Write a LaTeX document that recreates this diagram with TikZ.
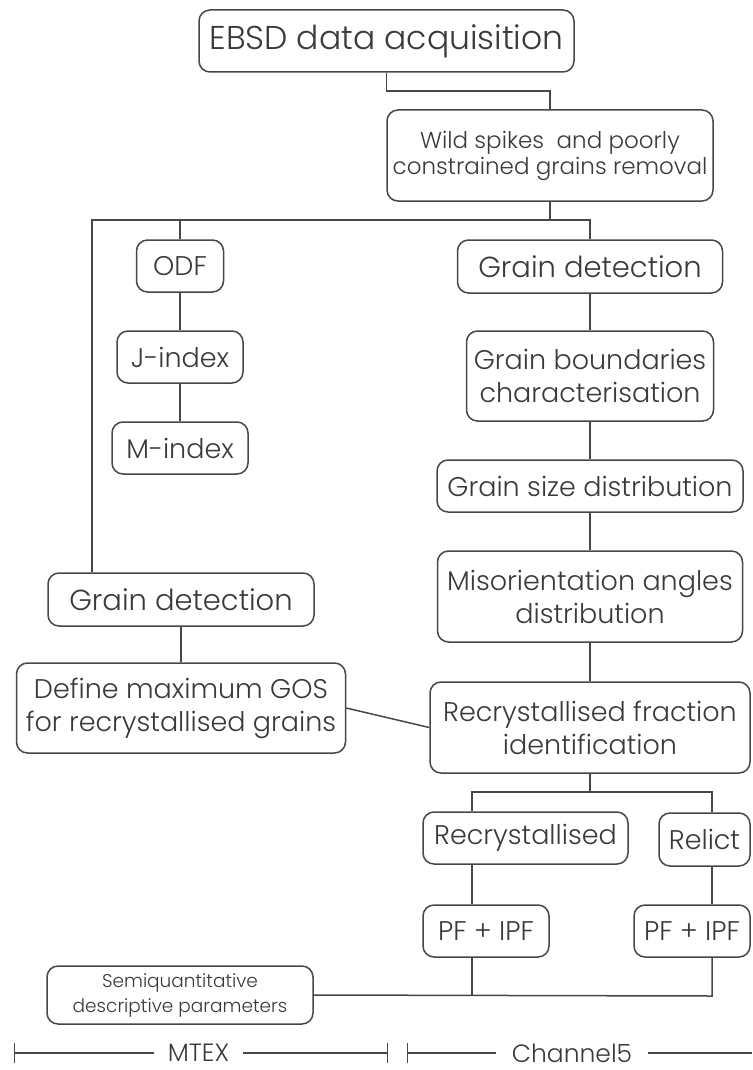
\documentclass[tikz,border=0pt]{standalone}
\usepackage{fontspec}
\setmainfont{Poppins}[UprightFont=* Light]
\usetikzlibrary{arrows.meta}
\definecolor{ink}{HTML}{3A3A3A}
\definecolor{wire}{HTML}{474747}
\begin{document}
\begin{tikzpicture}[x=1pt,y=-1pt,
  box/.style={draw=wire, line width=1.5pt, rounded corners=11pt, text=ink,
    align=center, inner sep=0pt, font=\fontsize{27}{33}\selectfont},
  sz/.style 2 args={minimum width=#1pt, minimum height=#2pt},
  link/.style={draw=wire, line width=1.5pt},
  ruler/.style={draw=wire, line width=1.2pt},
  rulerlabel/.style={text=ink, inner sep=1pt, font=\fontsize{25}{25}\selectfont}]

\fill[white] (0,0) rectangle (752,1070);
\useasboundingbox (0,0) rectangle (752,1070);

% process boxes
\node[box, sz={375}{62}, font=\fontsize{33}{38}\selectfont] (ebsd) at (386.5,41) {EBSD data acquisition};
\node[box, sz={326}{91}, font=\fontsize{23}{26}\selectfont] (wild) at (550,155.5) {Wild spikes~ and poorly\\constrained grains removal};

% MTEX texture branch
\node[box, sz={87}{52}] (odf) at (180,266) {ODF};
\node[box, sz={126}{52}] (jidx) at (180,357) {J-index};
\node[box, sz={136}{52}] (midx) at (180,448) {M-index};

% Channel5 grain branch
\node[box, sz={265}{53}, font=\fontsize{29}{33}\selectfont] (gd1) at (590,266.5) {Grain detection};
\node[box, sz={247}{90}] (gb) at (590,376) {Grain boundaries\\characterisation};
\node[box, sz={306}{52}] (gs) at (590,486) {Grain size distribution};
\node[box, sz={305}{91}] (mis) at (590,596.5) {Misorientation angles\\distribution};
\node[box, sz={320}{91}] (rf) at (590,727.5) {Recrystallised fraction\\identification};

% MTEX grain branch
\node[box, sz={266}{53}, font=\fontsize{29}{33}\selectfont] (gd2) at (181,599.5) {Grain detection};
\node[box, sz={329}{90}] (gos) at (181,708) {Define maximum GOS\\for recrystallised grains};

% fractions
\node[box, sz={205}{52}] (rec) at (525.5,838) {Recrystallised};
\node[box, sz={91}{53}] (rel) at (704.5,839.5) {Relict};
\node[box, sz={126}{52}] (pf1) at (486,931) {PF + IPF};
\node[box, sz={116}{52}] (pf2) at (692,931) {PF + IPF};
\node[box, sz={266}{58}, font=\fontsize{18.5}{25}\selectfont] (semi) at (180,995) {Semiquantitative\\descriptive parameters};

% connectors
\draw[link] (ebsd.south) |- (wild.north |- 0,91) -- (wild.north);

\coordinate (busL) at (92,220);
\coordinate (busR) at (gd1.north |- busL);
\draw[link] (wild.south) -- (wild.south |- busL);
\draw[link] (gd2.north -| busL) -- (busL) -- (busR) -- (gd1.north);
\draw[link] (odf.north) -- (odf.north |- busL);
\draw[link] (odf.south) -- (jidx.north);
\draw[link] (jidx.south) -- (midx.north);

\draw[link] (gd1.south) -- (gb.north);
\draw[link] (gb.south) -- (gs.north);
\draw[link] (gs.south) -- (mis.north);
\draw[link] (mis.south) -- (rf.north);

\draw[link] (gd2.south) -- (gos.north);
\draw[link] (gos.east) -- (rf.west);

\coordinate (splitL) at (472,792);
\coordinate (splitR) at (712,792);
\draw[link] (rf.south) -- (rf.south |- splitL);
\draw[link] (rec.north -| splitL) -- (splitL) -- (splitR) -- (rel.north -| splitR);
\draw[link] (rec.south -| splitL) -- (pf1.north -| splitL);
\draw[link] (rel.south -| splitR) -- (pf2.north -| splitR);

\coordinate (joinL) at (472,996);
\coordinate (joinR) at (712,996);
\draw[link] (pf1.south -| joinL) -- (joinL);
\draw[link] (semi.east) -- (joinR) -- (pf2.south -| joinR);

% software ranges
\node[rulerlabel, minimum width=89pt] (mtex) at (198.5,1053) {MTEX};
\node[rulerlabel, minimum width=152pt] (chan) at (572,1053) {Channel5};
\coordinate (mtexL) at (14,1053);
\coordinate (mtexR) at (388,1053);
\coordinate (chanL) at (407,1053);
\coordinate (chanR) at (752,1053);
\draw[ruler, {Bar[width=20pt]}-] (mtexL) -- (mtex.west);
\draw[ruler, -{Bar[width=20pt]}] (mtex.east) -- (mtexR);
\draw[ruler, {Bar[width=20pt]}-] (chanL) -- (chan.west);
\draw[ruler] (chan.east) -- (chanR);
\end{tikzpicture}
\end{document}
